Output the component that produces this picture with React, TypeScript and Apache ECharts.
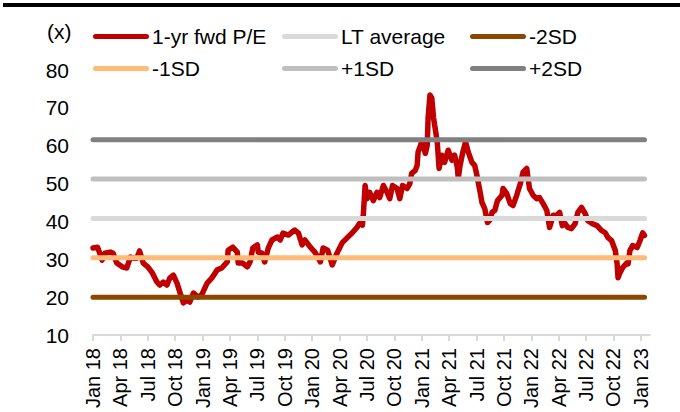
import React, { useEffect, useRef } from "react";
import * as echarts from "echarts";

// Months elapsed since Jan 2018 for each P/E observation
const peMonths = [
  0, 0.5, 1.0, 1.3, 1.9, 2.2, 2.6, 3.2, 3.7, 4.1,
  4.4, 4.8, 5.1, 5.5, 6.0, 6.5, 7.0, 7.3, 7.7, 8.1,
  8.4, 8.8, 9.2, 9.5, 9.9, 10.3, 10.6, 11.0, 11.5, 11.9,
  12.5, 13.0, 13.6, 14.1, 14.7, 14.8, 15.3, 15.8, 15.9, 16.4,
  16.9, 17.2, 17.5, 18.0, 18.1, 18.5, 18.8, 19.2, 19.6, 20.2,
  20.5, 20.8, 21.4, 21.8, 22.1, 22.5, 22.9, 23.2, 23.8, 24.3,
  24.9, 25.2, 25.7, 26.2, 26.7, 27.3, 27.8,
  28.4, 28.9, 29.2, 29.5, 29.6, 29.8, 30.0, 30.3, 30.7, 31.1,
  31.4, 31.8, 32.2, 32.5, 32.8, 33.3, 33.6, 33.9, 34.4, 34.7,
  34.9, 35.3, 35.5, 35.6, 36.0, 36.4, 36.6, 36.7, 36.9, 37.1,
  37.3, 37.7, 37.9, 38.2, 38.5, 38.9, 39.3, 39.6, 39.9, 40.0,
  40.2, 40.5, 40.8, 41.1, 41.5, 41.8, 42.0, 42.4, 42.6, 42.9,
  43.2, 43.5, 43.7, 44.0, 44.3, 44.8, 44.9, 45.3, 45.7, 46.0,
  46.4, 46.8, 47.1, 47.5, 47.8, 48.2, 48.6, 48.9, 49.3, 49.7,
  50.0, 50.4, 50.8, 51.1, 51.4, 51.7, 52.0, 52.4, 52.8, 53.1,
  53.5, 53.9, 54.2, 54.7, 55.2, 55.7, 56.1, 56.4, 56.8, 57.2,
  57.4, 57.5, 57.7, 58.0, 58.5, 58.6, 58.8, 59.1, 59.6, 59.9,
  60.2, 60.4,
];

// 1-yr forward P/E (x)
const peValues = [
  33.0, 33.2, 29.8, 31.6, 31.9, 31.6, 29.0, 28.0, 27.7, 30.6,
  30.3, 30.3, 32.2, 29.0, 28.0, 26.4, 24.0, 23.2, 24.0, 23.2,
  25.0, 25.8, 23.7, 21.4, 18.5, 19.2, 18.7, 21.1, 20.0, 20.6,
  23.7, 25.0, 27.2, 27.7, 29.3, 32.4, 33.2, 31.9, 29.0, 29.0,
  28.0, 29.3, 33.0, 33.8, 31.9, 31.6, 29.3, 33.0, 35.1, 35.9,
  35.1, 36.9, 36.4, 37.2, 37.7, 36.9, 33.8, 35.1, 33.2, 31.9,
  29.3, 33.0, 32.4, 28.5, 31.5, 34.4, 35.6,
  37.0, 38.4, 39.5, 39.0, 41.6, 49.5, 46.0, 47.7, 45.5, 47.7,
  46.3, 49.5, 47.7, 46.0, 49.5, 48.7, 46.0, 49.5, 48.7, 50.0,
  52.7, 53.5, 54.8, 58.3, 61.0, 58.0, 60.1, 67.3, 73.4, 72.6,
  67.3, 61.0, 54.0, 57.5, 55.6, 58.8, 56.2, 57.5, 54.3, 51.4,
  54.8, 58.3, 61.0, 58.3, 55.6, 54.8, 52.7, 47.7, 45.0, 43.4,
  39.7, 40.5, 42.4, 42.9, 45.5, 46.9, 48.7, 47.4, 44.7, 44.2,
  46.9, 50.0, 53.0, 54.0, 48.7, 46.9, 46.0, 46.3, 44.7, 42.9,
  38.4, 41.6, 41.6, 42.4, 38.9, 39.4, 38.4, 38.1, 39.4, 42.4,
  43.7, 42.1, 40.2, 39.4, 38.9, 37.6, 37.0, 35.7, 34.9, 32.3,
  28.8, 25.1, 26.4, 27.8, 29.1, 28.8, 32.3, 33.6, 33.1, 34.9,
  37.0, 36.3,
];

// Reference levels
const bandNames = ["LT average", "-2SD", "-1SD", "+1SD", "+2SD"];
const bandLevels = [40.8, 20.0, 30.4, 51.2, 61.6];
const bandColors = ["#D9D9D9", "#8C4600", "#FFBB78", "#BFBFBF", "#808080"];

// X axis tick labels (every quarter)
const xTickLabels = [
  "Jan 18", "Apr 18", "Jul 18", "Oct 18",
  "Jan 19", "Apr 19", "Jul 19", "Oct 19",
  "Jan 20", "Apr 20", "Jul 20", "Oct 20",
  "Jan 21", "Apr 21", "Jul 21", "Oct 21",
  "Jan 22", "Apr 22", "Jul 22", "Oct 22",
  "Jan 23",
];
const xTickValues = xTickLabels.map((_, i) => i * 3);

const X_MIN = 0;
const X_MAX = 61;
const BAND_END = 60.4;

const FONT = "'Liberation Sans', Arial, sans-serif";
const PE_NAME = "1-yr fwd P/E";
const PE_COLOR = "#C00000";

const pillIcon =
  "path://M2.5,0 L53.5,0 A2.5,2.5 0 0 1 53.5,5 L2.5,5 A2.5,2.5 0 0 1 2.5,0 Z";

export default function App() {
  const ref = useRef<HTMLDivElement>(null);

  useEffect(() => {
    if (!ref.current) return;
    const chart = echarts.init(ref.current, undefined, { renderer: "svg" });

    const legendPos: [string, number, number][] = [
      [PE_NAME, 93, 26],
      ["LT average", 282, 26],
      ["-2SD", 470, 26],
      ["-1SD", 93, 58],
      ["+1SD", 282, 58],
      ["+2SD", 470, 58],
    ];

    const legends = legendPos.map(([name, left, top]) => ({
      data: [name],
      left,
      top,
      icon: pillIcon,
      itemWidth: 56,
      itemHeight: 5,
      itemGap: 0,
      padding: 0,
      textStyle: { fontSize: 21, color: "#000", fontFamily: FONT, padding: [0, 0, 0, -2] },
      selectedMode: false,
    }));

    const peData = peMonths.map((m, i) => [m, peValues[i]]);

    const bandSeries = bandNames.map((name, i) => ({
      name,
      type: "line",
      data: [
        [X_MIN, bandLevels[i]],
        [BAND_END, bandLevels[i]],
      ],
      symbol: "none",
      lineStyle: { color: bandColors[i], width: 5, cap: "round" },
      itemStyle: { color: bandColors[i] },
      z: 3,
      silent: true,
    }));

    chart.setOption({
      animation: false,
      backgroundColor: "#fff",
      textStyle: { fontFamily: FONT },
      grid: { left: 93, right: 30, top: 70, bottom: 77, containLabel: false },
      graphic: [
        {
          type: "rect",
          shape: { x: 3, y: 3, width: 677, height: 4 },
          style: { fill: "#000" },
        },
        {
          type: "text",
          x: 47,
          y: 21,
          style: { text: "(x)", fontSize: 21, fill: "#000", fontFamily: FONT },
        },
      ],
      legend: legends,
      xAxis: {
        type: "value",
        min: X_MIN,
        max: X_MAX,
        splitLine: { show: false },
        axisLine: { show: true, lineStyle: { color: "#D9D9D9", width: 2 } },
        axisTick: {
          show: true,
          length: 6,
          lineStyle: { color: "#D9D9D9", width: 2 },
          customValues: xTickValues,
        },
        axisLabel: {
          rotate: 90,
          fontSize: 20,
          color: "#000",
          fontFamily: FONT,
          margin: 13,
          customValues: xTickValues,
          formatter: (v: number) => {
            const idx = Math.round(v / 3);
            return xTickLabels[idx] ?? "";
          },
        },
      },
      yAxis: {
        type: "value",
        min: 10,
        max: 80,
        interval: 10,
        splitLine: { show: false },
        axisLine: { show: false },
        axisTick: { show: false },
        axisLabel: { fontSize: 21, color: "#000", fontFamily: FONT, margin: 24 },
      },
      series: [
        {
          name: PE_NAME,
          type: "line",
          data: peData,
          symbol: "none",
          lineStyle: { color: PE_COLOR, width: 5.5, join: "round", cap: "round" },
          itemStyle: { color: PE_COLOR },
          z: 2,
        },
        ...bandSeries,
      ],
    });

    return () => chart.dispose();
  }, []);

  return (
    <div
      ref={ref}
      style={{ position: "fixed", left: 0, top: 0, width: 680, height: 412, background: "#fff" }}
    />
  );
}
